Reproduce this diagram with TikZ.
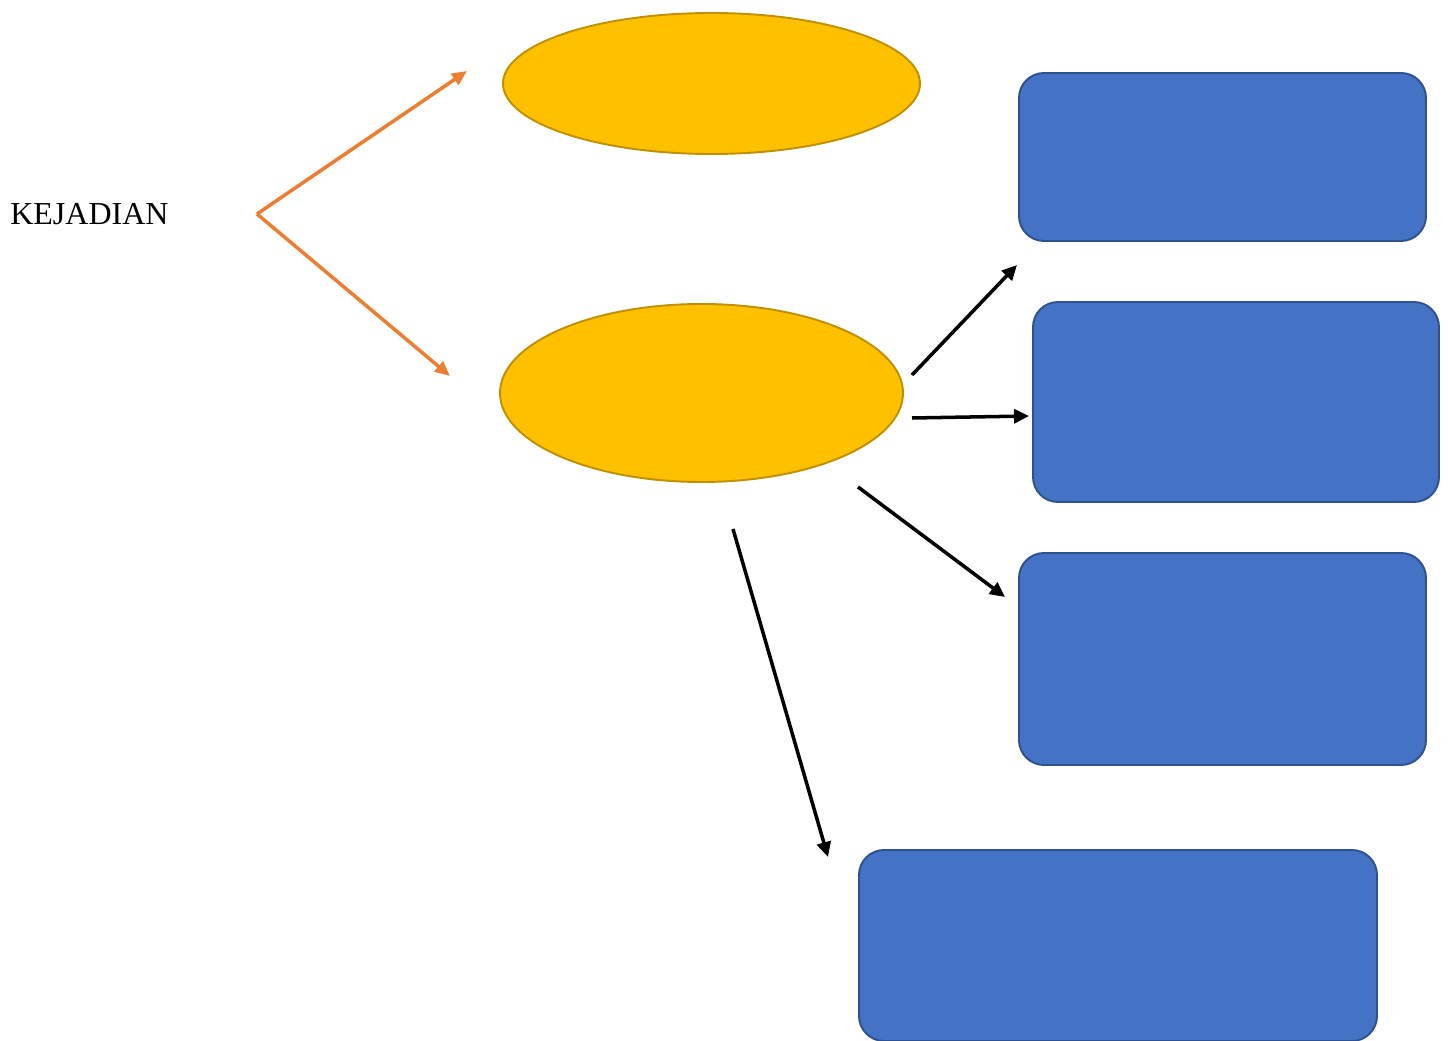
\documentclass[tikz,border=0pt]{standalone}
\usepackage{fontspec}
\setmainfont{Liberation Serif}
\usetikzlibrary{shapes.geometric}
\usetikzlibrary{arrows.meta}

\definecolor{ovalfill}{HTML}{FFC000}
\definecolor{ovalline}{HTML}{BF9000}
\definecolor{boxfill}{HTML}{4472C4}
\definecolor{boxline}{HTML}{2F528F}
\definecolor{forkorange}{HTML}{ED7D31}

\begin{document}
\begin{tikzpicture}[
			oval/.style={ellipse, draw=ovalline, fill=ovalfill, line width=1.1pt, inner sep=0pt},
			box/.style={draw=boxline, fill=boxfill, rounded corners=0.5cm, line width=1.1pt, inner sep=0pt},
			forklink/.style={draw=forkorange, line width=2pt, -{Triangle[length=0.3cm, width=0.26cm]}},
			link/.style={draw=black, line width=2pt, -{Triangle[length=0.3cm, width=0.28cm]}}
			]
			\useasboundingbox (0,0) rectangle (29,-20.82);
			
			% Left text
			\node[anchor=base west, inner sep=0pt, font=\fontsize{18.2}{21}\selectfont] (kejadian) at (0.2, -4.5) {KEJADIAN};
			
			% Ovals
			\node[oval, minimum width=8.34cm, minimum height=2.82cm] (upper) at (14.23, -1.67) {};
			\node[oval, minimum width=8.06cm, minimum height=3.56cm] (lower) at (14.03, -7.86) {};
			
			% Boxes on the right
			\node[box, minimum width=8.14cm, minimum height=3.36cm] (first) at (24.45, -3.14) {};
			\node[box, minimum width=8.12cm, minimum height=4.0cm] (second) at (24.72, -8.04) {};
			\node[box, minimum width=8.14cm, minimum height=4.24cm] (third) at (24.45, -13.18) {};
			
			% Box at the bottom
			\node[box, minimum width=10.36cm, minimum height=3.82cm] (fourth) at (22.36, -18.91) {};
			
			% Free ends of the arrows
			\coordinate (fork) at (5.14, -4.28);
			\coordinate (upperin) at (9.34, -1.42);
			\coordinate (lowerin) at (9.0, -7.52);
			\coordinate (out1) at (18.24, -7.5);
			\coordinate (in1) at (20.34, -5.3);
			\coordinate (out2) at (18.24, -8.36);
			\coordinate (in2) at (20.58, -8.32);
			\coordinate (out3) at (17.16, -9.74);
			\coordinate (in3) at (20.1, -11.94);
			\coordinate (out4) at (14.66, -10.58);
			\coordinate (in4) at (16.56, -17.14);
			
			% Arrows
			\draw[forklink] (fork) -- (upperin);
			\draw[forklink] (fork) -- (lowerin);
			\draw[link] (out1) -- (in1);
			\draw[link] (out2) -- (in2);
			\draw[link] (out3) -- (in3);
			\draw[link] (out4) -- (in4);
			
		\end{tikzpicture}
\end{document}
